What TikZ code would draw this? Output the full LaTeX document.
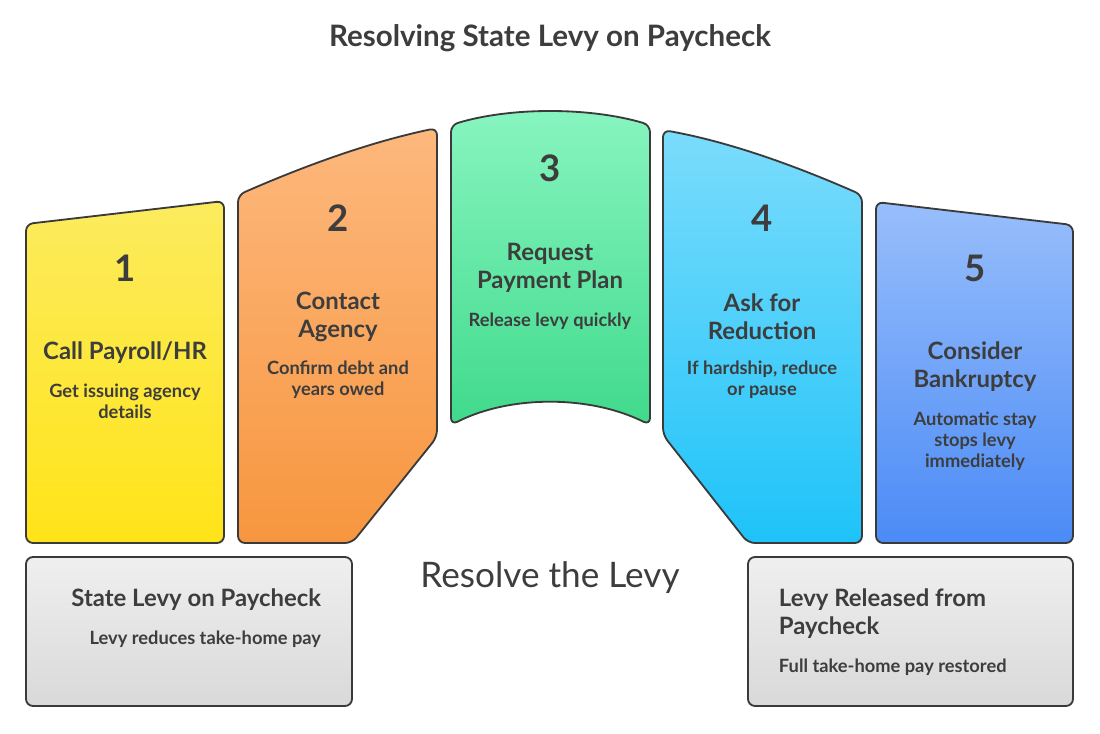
\documentclass[tikz,border=0pt]{standalone}
\usepackage{fontspec}
\setmainfont{Lato}
\usepackage{tikz}
\usetikzlibrary{positioning}

\definecolor{ink}{HTML}{3D3D3D}
\definecolor{edge}{HTML}{3A3A3A}
\definecolor{yelA}{HTML}{FCEB5E}
\definecolor{yelB}{HTML}{FFE418}
\definecolor{oraA}{HTML}{FDB87D}
\definecolor{oraB}{HTML}{F7963F}
\definecolor{grnA}{HTML}{88F5C0}
\definecolor{grnB}{HTML}{40DA8C}
\definecolor{cyaA}{HTML}{7BDCFC}
\definecolor{cyaB}{HTML}{1EC3F9}
\definecolor{bluA}{HTML}{98BEFB}
\definecolor{bluB}{HTML}{4B8BF6}
\definecolor{gryA}{HTML}{EFEFEF}
\definecolor{gryB}{HTML}{D9D9D9}

\begin{document}
\begin{tikzpicture}[x=0.025cm, y=-0.025cm,
    panel/.style={draw=edge, line width=1.3pt, rounded corners=5pt},
    num/.style={font=\bfseries\fontsize{26}{30}\selectfont, text=ink},
    head/.style={font=\bfseries\fontsize{17}{20}\selectfont, text=ink, align=center},
    desc/.style={font=\bfseries\fontsize{13}{15}\selectfont, text=ink, align=center}]
    \useasboundingbox (0,0) rectangle (1100,733);

    % Title
    \node[font=\bfseries\fontsize{21}{24}\selectfont, text=ink] (title) at (550,38) {Resolving State Levy on Paycheck};

    % Arch of steps
    \path[panel, top color=yelA, bottom color=yelB] (26,224) -- (224,201) -- (224,543) -- (26,543) -- cycle;
    \path[panel, top color=oraA, bottom color=oraB] (238,195) .. controls (304,166) and (370,142) .. (437,128)
        -- (437,437) -- (352,543) -- (238,543) -- cycle;
    \path[panel, top color=grnA, bottom color=grnB] (451,125) .. controls (510,107) and (590,107) .. (650,125)
        -- (650,425) .. controls (590,395) and (510,395) .. (451,425) -- cycle;
    \path[panel, top color=cyaA, bottom color=cyaB] (663,130) .. controls (730,142) and (796,166) .. (862,195)
        -- (862,543) -- (748,543) -- (663,435) -- cycle;
    \path[panel, top color=bluA, bottom color=bluB] (876,202) -- (1073,225) -- (1073,543) -- (876,543) -- cycle;

    % Step texts
    \foreach \i/\x/\y in {1/125/268, 2/338/218, 3/550/168, 4/762/218, 5/975/268} {
        \node[num] (n\i) at (\x,\y) {\i};
    }
    \node[head] (t1) at (125,353) {Call Payroll/HR};
    \node[desc] (d1) at (125,401) {Get issuing agency\\details};
    \node[head] (t2) at (338,317) {Contact\\Agency};
    \node[desc] (d2) at (338,380) {Confirm debt and\\years owed};
    \node[head] (t3) at (550,268) {Request\\Payment Plan};
    \node[desc] (d3) at (550,321) {Release levy quickly};
    \node[head] (t4) at (762,317) {Ask for\\Reduction};
    \node[desc] (d4) at (762,380) {If hardship, reduce\\or pause};
    \node[head] (t5) at (975,367) {Consider\\Bankruptcy};
    \node[desc] (d5) at (975,441) {Automatic stay\\stops levy\\immediately};

    % Start and end
    \path[panel, top color=gryA, bottom color=gryB] (26,557) rectangle (352,706);
    \path[panel, top color=gryA, bottom color=gryB] (748,557) rectangle (1073,706);
    \node[head, anchor=east] (start) at (326,600) {State Levy on Paycheck};
    \node[desc, anchor=east] (startd) at (326,639) {Levy reduces take-home pay};
    \node[head, anchor=west, align=left] (end) at (774,614) {Levy Released from\\Paycheck};
    \node[desc, anchor=west] (endd) at (774,667) {Full take-home pay restored};

    \node[font=\fontsize{25}{28}\selectfont, text=ink] (goal) at (550,578) {Resolve the Levy};
\end{tikzpicture}
\end{document}
